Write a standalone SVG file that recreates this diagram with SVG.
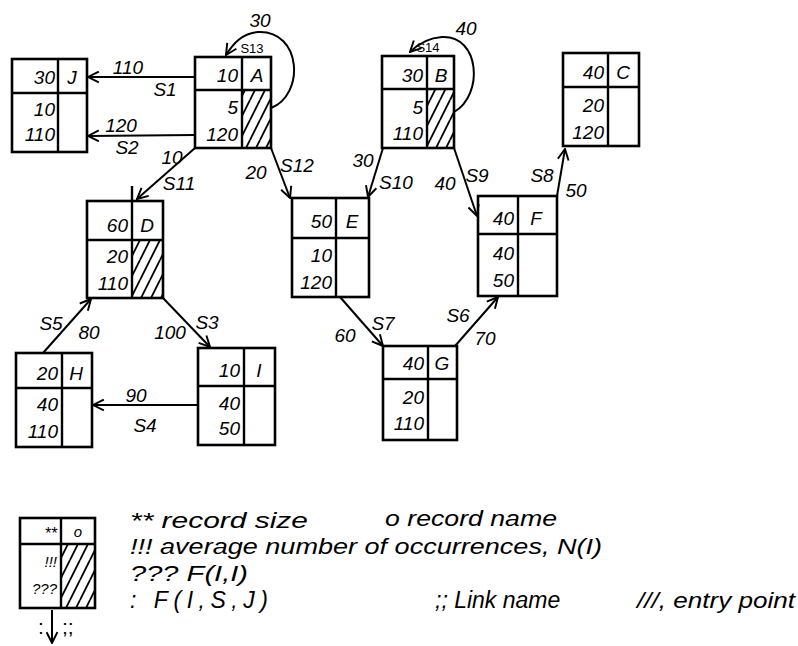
<svg xmlns="http://www.w3.org/2000/svg" width="798" height="646" viewBox="0 0 798 646">
<defs>
<style>
.box{fill:none;stroke:#000;stroke-width:2.6}
.ln{stroke:#000;stroke-width:2.4;fill:none}
.edge{stroke:#000;stroke-width:2;fill:none;marker-end:url(#arr)}
.t{font-family:"Liberation Sans",Arial,sans-serif;font-size:19px;fill:#000;font-style:italic}
.r{text-anchor:end}
.c{text-anchor:middle}
.lab{font-family:"Liberation Sans",Arial,sans-serif;font-size:19px;fill:#000;text-anchor:middle;font-style:italic}
.sm{font-family:"Liberation Sans",Arial,sans-serif;font-size:13px;fill:#000;text-anchor:middle}
.leg{font-family:"Liberation Sans",Arial,sans-serif;font-size:22px;fill:#000;font-style:italic}
</style>
<pattern id="hatch" patternUnits="userSpaceOnUse" width="10" height="20">
<path d="M-5,10 L0,0 M0,20 L10,0 M10,20 L15,10" stroke="#000" stroke-width="1.8"/>
</pattern>
<marker id="arr" viewBox="0 0 12 12" refX="11" refY="6" markerWidth="13" markerHeight="13" markerUnits="userSpaceOnUse" orient="auto">
<path d="M1,1 L11,6 L1,11" fill="none" stroke="#000" stroke-width="1.8"/>
</marker>
</defs>
<rect width="798" height="646" fill="#fff"/>

<g id="connectors">
<path class="edge" d="M195,77 L88,77"/>
<path class="edge" d="M195,135 L88,136"/>
<path class="edge" d="M195,148 L137,199"/>
<path class="edge" d="M271,148 L290,198"/>
<path class="edge" d="M383,148 L368,197"/>
<path class="edge" d="M454,148 L477,216"/>
<path class="edge" d="M557,196 L565,149"/>
<path class="edge" d="M43,353 L91,299"/>
<path class="edge" d="M163,298 L210,347"/>
<path class="edge" d="M198,405 L93,405"/>
<path class="edge" d="M340,297 L383,346"/>
<path class="edge" d="M455,346 L498,297"/>
<path class="edge" d="M271,108 C305,95 302,30 258,32 C242,33 233,44 226,55"/>
<path class="edge" d="M454,112 C484,95 480,35 442,37 C427,38 417,45 410,52"/>
<line class="ln" x1="132" y1="186" x2="132" y2="202" stroke-width="1.6"/>
<text class="lab" x="128" y="74">110</text>
<text class="lab" x="165" y="96">S1</text>
<text class="lab" x="121" y="132">120</text>
<text class="lab" x="127" y="154">S2</text>
<text class="lab" x="172" y="164">10</text>
<text class="lab" x="179" y="190">S11</text>
<text class="lab" x="256" y="179">20</text>
<text class="lab" x="297" y="172">S12</text>
<text class="lab" x="363" y="167">30</text>
<text class="lab" x="396" y="189">S10</text>
<text class="lab" x="445" y="190">40</text>
<text class="lab" x="477" y="182">S9</text>
<text class="lab" x="542" y="182">S8</text>
<text class="lab" x="576" y="197">50</text>
<text class="lab" x="51" y="330">S5</text>
<text class="lab" x="89" y="339">80</text>
<text class="lab" x="170" y="339">100</text>
<text class="lab" x="207" y="329">S3</text>
<text class="lab" x="136" y="402">90</text>
<text class="lab" x="145" y="432">S4</text>
<text class="lab" x="345" y="342">60</text>
<text class="lab" x="383" y="330">S7</text>
<text class="lab" x="458" y="322">S6</text>
<text class="lab" x="485" y="345">70</text>
<text class="lab" x="260" y="27">30</text>
<text class="sm" x="252" y="53">S13</text>
<text class="lab" x="466" y="35">40</text>
<text class="sm" x="428" y="52">S14</text>
</g>

<g id="node-J">
<rect class="box" x="12" y="59" width="75" height="93"/>
<line class="ln" x1="58" y1="59" x2="58" y2="152"/>
<line class="ln" x1="12" y1="93" x2="87" y2="93"/>
<text class="t r" x="55" y="84">30</text>
<text class="t c" x="72" y="84">J</text>
<text class="t r" x="55" y="116">10</text>
<text class="t r" x="55" y="141">110</text>
</g>

<g id="node-A">
<rect x="242" y="90" width="29" height="58" fill="url(#hatch)"/>
<rect class="box" x="195" y="57" width="76" height="91"/>
<line class="ln" x1="242" y1="57" x2="242" y2="148"/>
<line class="ln" x1="195" y1="90" x2="271" y2="90"/>
<text class="t r" x="238" y="82">10</text>
<text class="t c" x="257" y="82">A</text>
<text class="t r" x="238" y="114">5</text>
<text class="t r" x="238" y="141">120</text>
</g>

<g id="node-B">
<rect x="427" y="89" width="27" height="59" fill="url(#hatch)"/>
<rect class="box" x="382" y="56" width="72" height="92"/>
<line class="ln" x1="427" y1="56" x2="427" y2="148"/>
<line class="ln" x1="382" y1="89" x2="454" y2="89"/>
<text class="t r" x="423" y="82">30</text>
<text class="t c" x="441" y="82">B</text>
<text class="t r" x="423" y="114">5</text>
<text class="t r" x="423" y="140">110</text>
</g>

<g id="node-C">
<rect class="box" x="563" y="53" width="76" height="93"/>
<line class="ln" x1="608" y1="53" x2="608" y2="146"/>
<line class="ln" x1="563" y1="87" x2="639" y2="87"/>
<text class="t r" x="604" y="79">40</text>
<text class="t c" x="623" y="79">C</text>
<text class="t r" x="604" y="112">20</text>
<text class="t r" x="604" y="139">120</text>
</g>

<g id="node-D">
<rect x="132" y="240" width="31" height="58" fill="url(#hatch)"/>
<rect class="box" x="87" y="201" width="76" height="97"/>
<line class="ln" x1="132" y1="201" x2="132" y2="298"/>
<line class="ln" x1="87" y1="240" x2="163" y2="240"/>
<text class="t r" x="128" y="232">60</text>
<text class="t c" x="147" y="232">D</text>
<text class="t r" x="128" y="263">20</text>
<text class="t r" x="128" y="290">110</text>
</g>

<g id="node-E">
<rect class="box" x="292" y="198" width="77" height="99"/>
<line class="ln" x1="336" y1="198" x2="336" y2="297"/>
<line class="ln" x1="292" y1="238" x2="369" y2="238"/>
<text class="t r" x="332" y="228">50</text>
<text class="t c" x="352" y="228">E</text>
<text class="t r" x="332" y="262">10</text>
<text class="t r" x="332" y="289">120</text>
</g>

<g id="node-F">
<rect class="box" x="478" y="196" width="79" height="100"/>
<line class="ln" x1="518" y1="196" x2="518" y2="296"/>
<line class="ln" x1="478" y1="234" x2="557" y2="234"/>
<text class="t r" x="514" y="225">40</text>
<text class="t c" x="536" y="225">F</text>
<text class="t r" x="514" y="260">40</text>
<text class="t r" x="514" y="287">50</text>
</g>

<g id="node-H">
<rect class="box" x="16" y="353" width="76" height="94"/>
<line class="ln" x1="62" y1="353" x2="62" y2="447"/>
<line class="ln" x1="16" y1="388" x2="92" y2="388"/>
<text class="t r" x="58" y="380">20</text>
<text class="t c" x="76" y="380">H</text>
<text class="t r" x="58" y="411">40</text>
<text class="t r" x="58" y="438">110</text>
</g>

<g id="node-I">
<rect class="box" x="198" y="348" width="77" height="97"/>
<line class="ln" x1="244" y1="348" x2="244" y2="445"/>
<line class="ln" x1="198" y1="386" x2="275" y2="386"/>
<text class="t r" x="240" y="377">10</text>
<text class="t c" x="259" y="377">I</text>
<text class="t r" x="240" y="410">40</text>
<text class="t r" x="240" y="435">50</text>
</g>

<g id="node-G">
<rect class="box" x="383" y="346" width="74" height="94"/>
<line class="ln" x1="428" y1="346" x2="428" y2="440"/>
<line class="ln" x1="383" y1="379" x2="457" y2="379"/>
<text class="t r" x="424" y="370">40</text>
<text class="t c" x="442" y="370">G</text>
<text class="t r" x="424" y="404">20</text>
<text class="t r" x="424" y="430">110</text>
</g>

<g id="legend">
<rect x="61" y="544" width="34" height="64" fill="url(#hatch)"/>
<rect class="box" x="20" y="518" width="75" height="90"/>
<line class="ln" x1="61" y1="518" x2="61" y2="608"/>
<line class="ln" x1="20" y1="544" x2="95" y2="544"/>
<text class="t r" x="57" y="539" style="font-size:16px">**</text>
<text class="t c" x="78" y="537" style="font-size:15px">o</text>
<text class="t r" x="57" y="567" style="font-size:15px">!!!</text>
<text class="t r" x="57" y="594" style="font-size:15px">???</text>
<line x1="52" y1="610" x2="52" y2="643" stroke="#000" stroke-width="2" marker-end="url(#arr)"/>
<text class="t" x="38" y="634" style="font-size:21px;font-style:normal">:</text>
<text class="t" x="62" y="634" style="font-size:21px;font-style:normal">;;</text>
<text class="leg" x="130" y="528" textLength="178" lengthAdjust="spacingAndGlyphs">** record size</text>
<text class="leg" x="385" y="526" textLength="172" lengthAdjust="spacingAndGlyphs">o record name</text>
<text class="leg" x="130" y="554" textLength="472" lengthAdjust="spacingAndGlyphs">!!! average number of occurrences, N(I)</text>
<text class="leg" x="130" y="581" textLength="118" lengthAdjust="spacingAndGlyphs">??? F(I,I)</text>
<text class="leg" x="130" y="608" style="font-size:23px" textLength="138" lengthAdjust="spacing">:  F(I,S,J)</text>
<text class="leg" x="435" y="608" style="font-size:23px">;; Link name</text>
<text class="leg" x="637" y="608" textLength="158" lengthAdjust="spacingAndGlyphs">///, entry point</text>
</g>
</svg>
